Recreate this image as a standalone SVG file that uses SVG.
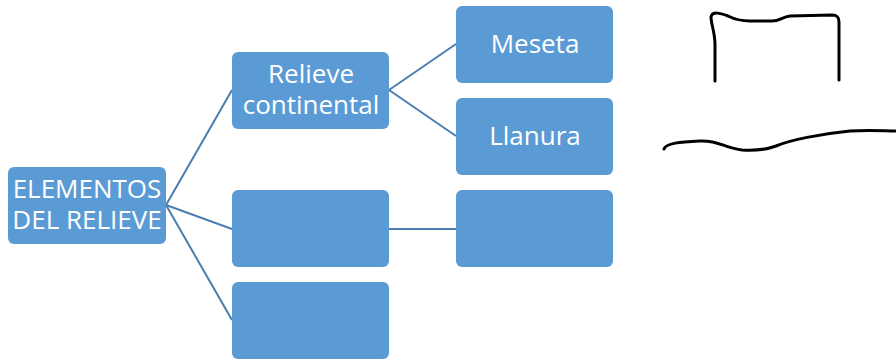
<svg xmlns="http://www.w3.org/2000/svg" width="896" height="360" viewBox="0 0 896 360">
<style>
.box{fill:#5B9BD5;}
.lbl{fill:#ffffff;font-family:"Open Sans","Liberation Sans",sans-serif;font-size:26px;text-anchor:middle;}
.conn line{stroke:#4A7EB0;stroke-width:2;}
.ink{fill:none;stroke:#000;stroke-width:3;stroke-linecap:round;stroke-linejoin:round;}
</style>
<rect width="896" height="360" fill="#ffffff"/>
<g id="connectors" class="conn">
<line x1="166" y1="205" x2="232" y2="90"/>
<line x1="166" y1="205" x2="232" y2="229"/>
<line x1="166" y1="205" x2="232" y2="320"/>
<line x1="389" y1="90" x2="456" y2="44"/>
<line x1="389" y1="90" x2="456" y2="136"/>
<line x1="389" y1="229" x2="456" y2="229"/>
</g>
<g id="root"><rect class="box" x="8" y="167" width="158" height="77" rx="6"/>
<text class="lbl" x="87" y="198">ELEMENTOS</text><text class="lbl" x="87" y="229">DEL RELIEVE</text></g>
<g id="relieve"><rect class="box" x="232" y="52" width="157" height="77" rx="6"/>
<text class="lbl" x="311" y="83">Relieve</text><text class="lbl" x="311" y="114">continental</text></g>
<g id="meseta"><rect class="box" x="456" y="6" width="157" height="77" rx="6"/>
<text class="lbl" x="535" y="53">Meseta</text></g>
<g id="llanura"><rect class="box" x="456" y="98" width="157" height="77" rx="6"/>
<text class="lbl" x="535" y="145">Llanura</text></g>
<g id="empty1"><rect class="box" x="232" y="190" width="157" height="77" rx="6"/></g>
<g id="empty2"><rect class="box" x="456" y="190" width="157" height="77" rx="6"/></g>
<g id="empty3"><rect class="box" x="232" y="282" width="157" height="77" rx="6"/></g>
<path class="ink" d="M715,81 L715,45 C715,32 711,24 711,17 C712,11 720,13 728,16 C736,20 742,21 750,21 L772,21 C780,21 782,17 790,16 L832,15 C838,15 839,18 839,22 L839,80"/>
<path class="ink" d="M664,149 C666,143 680,142 700,141 C718,140 725,148 742,150 C758,151 768,149 776,146 C790,140 820,134 850,131 C870,130 885,131 895,131"/>
</svg>
